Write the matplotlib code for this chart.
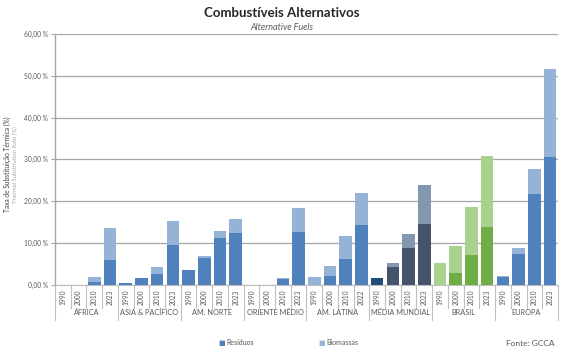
import matplotlib.pyplot as plt
from matplotlib.ticker import FuncFormatter

plt.rcParams['font.family'] = ['Lato', 'DejaVu Sans']

regions = ["ÁFRICA", "ASIA & PACÍFICO", "AM. NORTE", "ORIENTE MÉDIO",
           "AM. LATINA", "MÉDIA MUNDIAL", "BRASIL", "EUROPA"]
years = [
    ["1990", "2000", "2010", "2023"],
    ["1990", "2000", "2010", "2023"],
    ["1990", "2000", "2010", "2023"],
    ["1990", "2000", "2010", "2023"],
    ["1990", "2000", "2010", "2022"],
    ["1990", "2000", "2010", "2023"],
    ["1990", "2000", "2010", "2023"],
    ["1990", "2000", "2010", "2023"],
]
# % values per region (1990, 2000, 2010, 2023)
residuos = [
    [0.0, 0.0, 0.6, 6.0],
    [0.5, 1.7, 2.6, 9.6],
    [3.6, 6.4, 11.1, 12.4],
    [0.0, 0.0, 1.3, 12.6],
    [0.0, 2.1, 6.2, 14.3],
    [1.6, 4.2, 8.8, 14.5],
    [0.0, 2.8, 7.1, 13.8],
    [1.8, 7.4, 21.8, 30.6],
]
biomassas = [
    [0.0, 0.0, 1.4, 7.6],
    [0.0, 0.0, 1.6, 5.7],
    [0.0, 0.6, 1.7, 3.3],
    [0.0, 0.0, 0.4, 5.7],
    [1.9, 2.5, 5.5, 7.6],
    [0.0, 1.1, 3.3, 9.3],
    [5.3, 6.5, 11.6, 17.1],
    [0.4, 1.4, 6.0, 21.0],
]

c_res = "#4F81BD"
c_bio = "#95B3D7"
res_colors = {"MÉDIA MUNDIAL": ["#1F4E79", "#44546A", "#44546A", "#44546A"],
              "BRASIL": ["#70AD47"] * 4}
bio_colors = {"MÉDIA MUNDIAL": ["#8497B0"] * 4,
              "BRASIL": ["#A9D18E"] * 4}

fig = plt.figure(figsize=(5.63, 3.5), dpi=100)
ax = fig.add_axes([0.0977, 0.186, 0.8933, 0.717])
xt = ax.get_xaxis_transform()

x = 0
for i, reg in enumerate(regions):
    for j in range(4):
        rc = res_colors.get(reg, [c_res] * 4)[j]
        bc = bio_colors.get(reg, [c_bio] * 4)[j]
        ax.bar(x, residuos[i][j], width=0.8, color=rc, zorder=3)
        ax.bar(x, biomassas[i][j], bottom=residuos[i][j], width=0.8, color=bc, zorder=3)
        ax.text(x, -0.048, years[i][j], rotation=90, ha="center", va="center",
                fontsize=4.8, color="#595959", transform=xt)
        x += 1
    ax.text(4 * i + 1.5, -0.11, reg, ha="center", va="center", fontsize=5.3,
            color="#595959", transform=xt)

# separators of the category axis
for k in range(33):
    xs = k - 0.5
    low = -0.14 if k % 4 == 0 else -0.092
    ax.plot([xs, xs], [0, low], color="#BFBFBF", lw=0.8,
            transform=xt, clip_on=False)

ax.set_xlim(-0.5, 31.5)
ax.set_ylim(0, 60)
ax.set_yticks(range(0, 61, 10))
ax.yaxis.set_major_formatter(FuncFormatter(lambda v, p: f"{v:.2f}".replace(".", ",") + " %"))
ax.tick_params(axis="y", labelsize=4.8, labelcolor="#595959", length=3,
               color="#A6A6A6", pad=2)
ax.set_xticks([])
ax.grid(axis="y", color="#A6A6A6", lw=0.9, zorder=0)
for s in ["top", "right"]:
    ax.spines[s].set_visible(False)
ax.spines["bottom"].set_color("#BFBFBF")
ax.spines["left"].set_color("#A6A6A6")
ax.spines["left"].set_linewidth(1.0)
ax.spines["left"].set_bounds(0, 60)

fig.text(0.5, 0.962, "Combustíveis Alternativos", ha="center", va="center",
         fontsize=9.5, fontweight="bold", color="#262626")
fig.text(0.5, 0.922, "Alternative Fuels", ha="center", va="center",
         fontsize=6.5, style="italic", color="#595959")

fig.text(0.013, 0.53, "Taxa de Substituição Térmica (%)", rotation=90,
         ha="center", va="center", fontsize=4.8, color="#404040")
fig.text(0.027, 0.53, "Thermal Substitution Rate (%)", rotation=90,
         ha="center", va="center", fontsize=4.2, color="#A6A6A6")

# legend
fig.text(0.394, 0.022, "■", color=c_res, fontsize=5, ha="center", va="center")
fig.text(0.402, 0.022, "Resíduos", color="#595959", fontsize=5, ha="left", va="center")
fig.text(0.572, 0.022, "■", color=c_bio, fontsize=5, ha="center", va="center")
fig.text(0.580, 0.022, "Biomassas", color="#595959", fontsize=5, ha="left", va="center")
fig.text(0.985, 0.02, "Fonte: GCCA", color="#595959", fontsize=6, ha="right", va="center")

fig.savefig("out.png", dpi=100)
